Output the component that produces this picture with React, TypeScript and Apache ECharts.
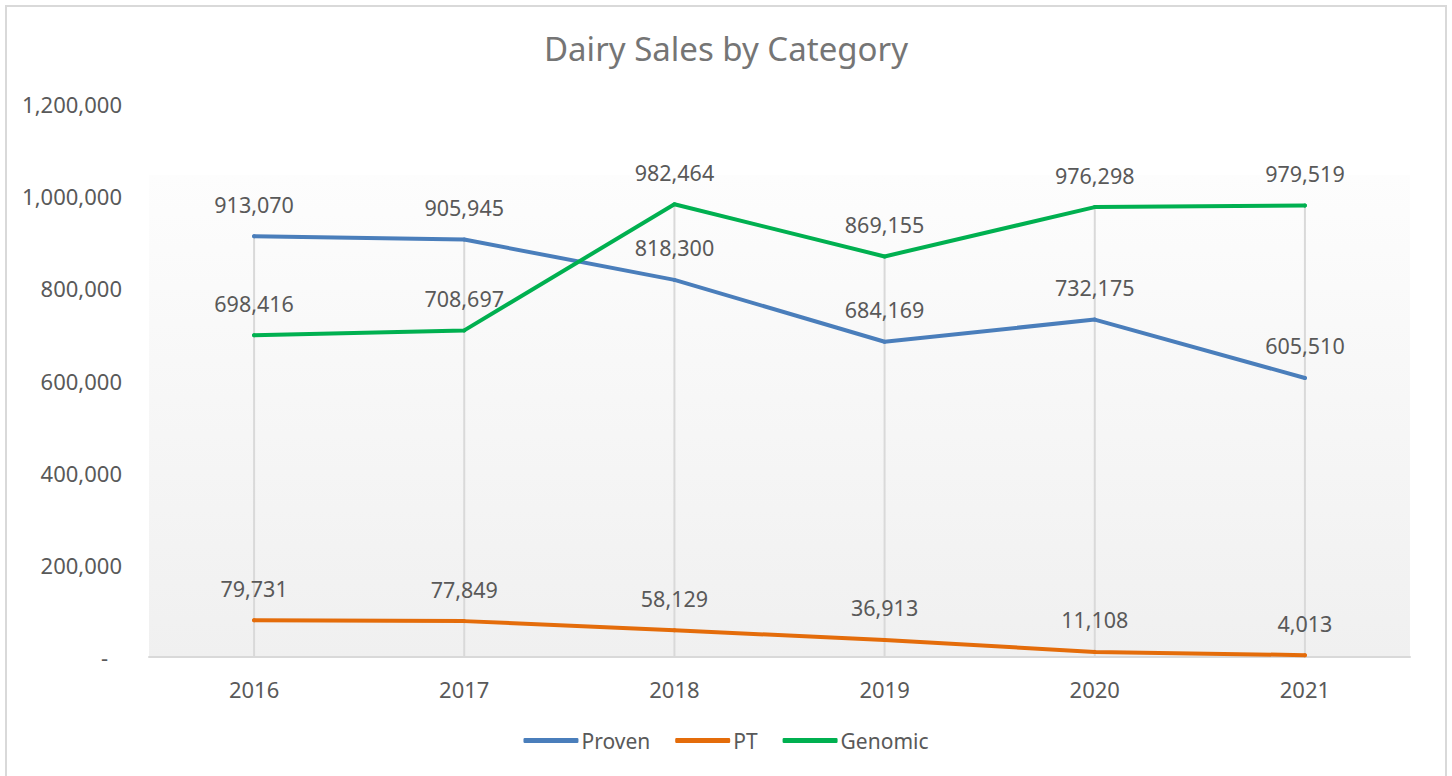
import React, { useEffect, useRef } from "react";
import * as echarts from "echarts";

const years = ["2016", "2017", "2018", "2019", "2020", "2021"];
const proven = [913070, 905945, 818300, 684169, 732175, 605510];
const pt = [79731, 77849, 58129, 36913, 11108, 4013];
const genomic = [698416, 708697, 982464, 869155, 976298, 979519];
const seriesNames = ["Proven", "PT", "Genomic"];
const seriesColors = ["#4a7ebb", "#e46c0a", "#00b050"];

const FONT = "'Noto Sans', sans-serif";
const fmt = (v: number) => v.toLocaleString("en-US");

export default function App() {
  const ref = useRef<HTMLDivElement>(null);
  useEffect(() => {
    if (!ref.current) return;
    const chart = echarts.init(ref.current, undefined, { renderer: "svg" });
    const dropTops = years.map((_, i) => Math.max(proven[i], pt[i], genomic[i]));
    const dataSets = [proven, pt, genomic];
    chart.setOption({
      animation: false,
      backgroundColor: "#ffffff",
      textStyle: { fontFamily: FONT },
      title: {
        text: "Dairy Sales by Category",
        left: "center",
        top: 27,
        textStyle: { fontFamily: FONT, fontSize: 33, fontWeight: "normal", color: "#757575" },
      },
      graphic: [
        {
          type: "rect",
          z: -10,
          shape: { x: 6, y: 6, width: 1440, height: 790 },
          style: { fill: "none", stroke: "#d9d9d9", lineWidth: 2 },
          silent: true,
        },
        {
          type: "rect",
          z: -10,
          shape: { x: 149, y: 175, width: 1261, height: 482 },
          style: {
            fill: new echarts.graphic.LinearGradient(0, 0, 0, 1, [
              { offset: 0, color: "#fdfdfd" },
              { offset: 1, color: "#f0f0f0" },
            ]),
          },
          silent: true,
        },
      ],
      legend: {
        data: seriesNames,
        bottom: 20,
        left: "center",
        icon: "roundRect",
        itemWidth: 55,
        itemHeight: 5,
        itemGap: 25,
        textStyle: { fontFamily: FONT, fontSize: 21, color: "#595959", padding: [0, 0, 0, -2] },
      },
      grid: { left: 149, right: 42, top: 104, bottom: 119, containLabel: false },
      xAxis: {
        type: "category",
        data: years,
        boundaryGap: true,
        axisLine: { lineStyle: { color: "#d9d9d9", width: 2 } },
        axisTick: { show: false },
        axisLabel: { fontFamily: FONT, fontSize: 22, color: "#595959", margin: 21 },
        splitLine: { show: false },
      },
      yAxis: {
        type: "value",
        min: 0,
        max: 1200000,
        interval: 200000,
        axisLine: { show: false },
        axisTick: { show: false },
        splitLine: { show: false },
        axisLabel: {
          fontFamily: FONT,
          fontSize: 22,
          color: "#595959",
          margin: 27,
          formatter: (v: number) => (v === 0 ? "{z|-}" : fmt(v)),
          rich: { z: { fontFamily: FONT, fontSize: 22, color: "#595959", padding: [0, 14, 0, 0] } },
        },
      },
      series: [
        {
          type: "bar",
          name: "drop",
          data: dropTops,
          barWidth: 2,
          itemStyle: { color: "#d9d9d9" },
          silent: true,
          z: 1,
        },
        ...seriesNames.map((name, k) => ({
          type: "line",
          name,
          data: dataSets[k],
          color: seriesColors[k],
          symbol: "circle",
          symbolSize: 4,
          lineStyle: { width: 4, color: seriesColors[k], cap: "round", join: "round" },
          itemStyle: { color: seriesColors[k] },
          z: 3,
          label: {
            show: true,
            position: "top",
            distance: 19,
            fontFamily: FONT,
            fontSize: 21.5,
            color: "#595959",
            formatter: (p: any) => fmt(p.value),
          },
        })),
      ],
    });
    return () => chart.dispose();
  }, []);
  return (
    <div
      ref={ref}
      style={{ position: "fixed", left: 0, top: 0, width: 1452, height: 776 }}
    />
  );
}
